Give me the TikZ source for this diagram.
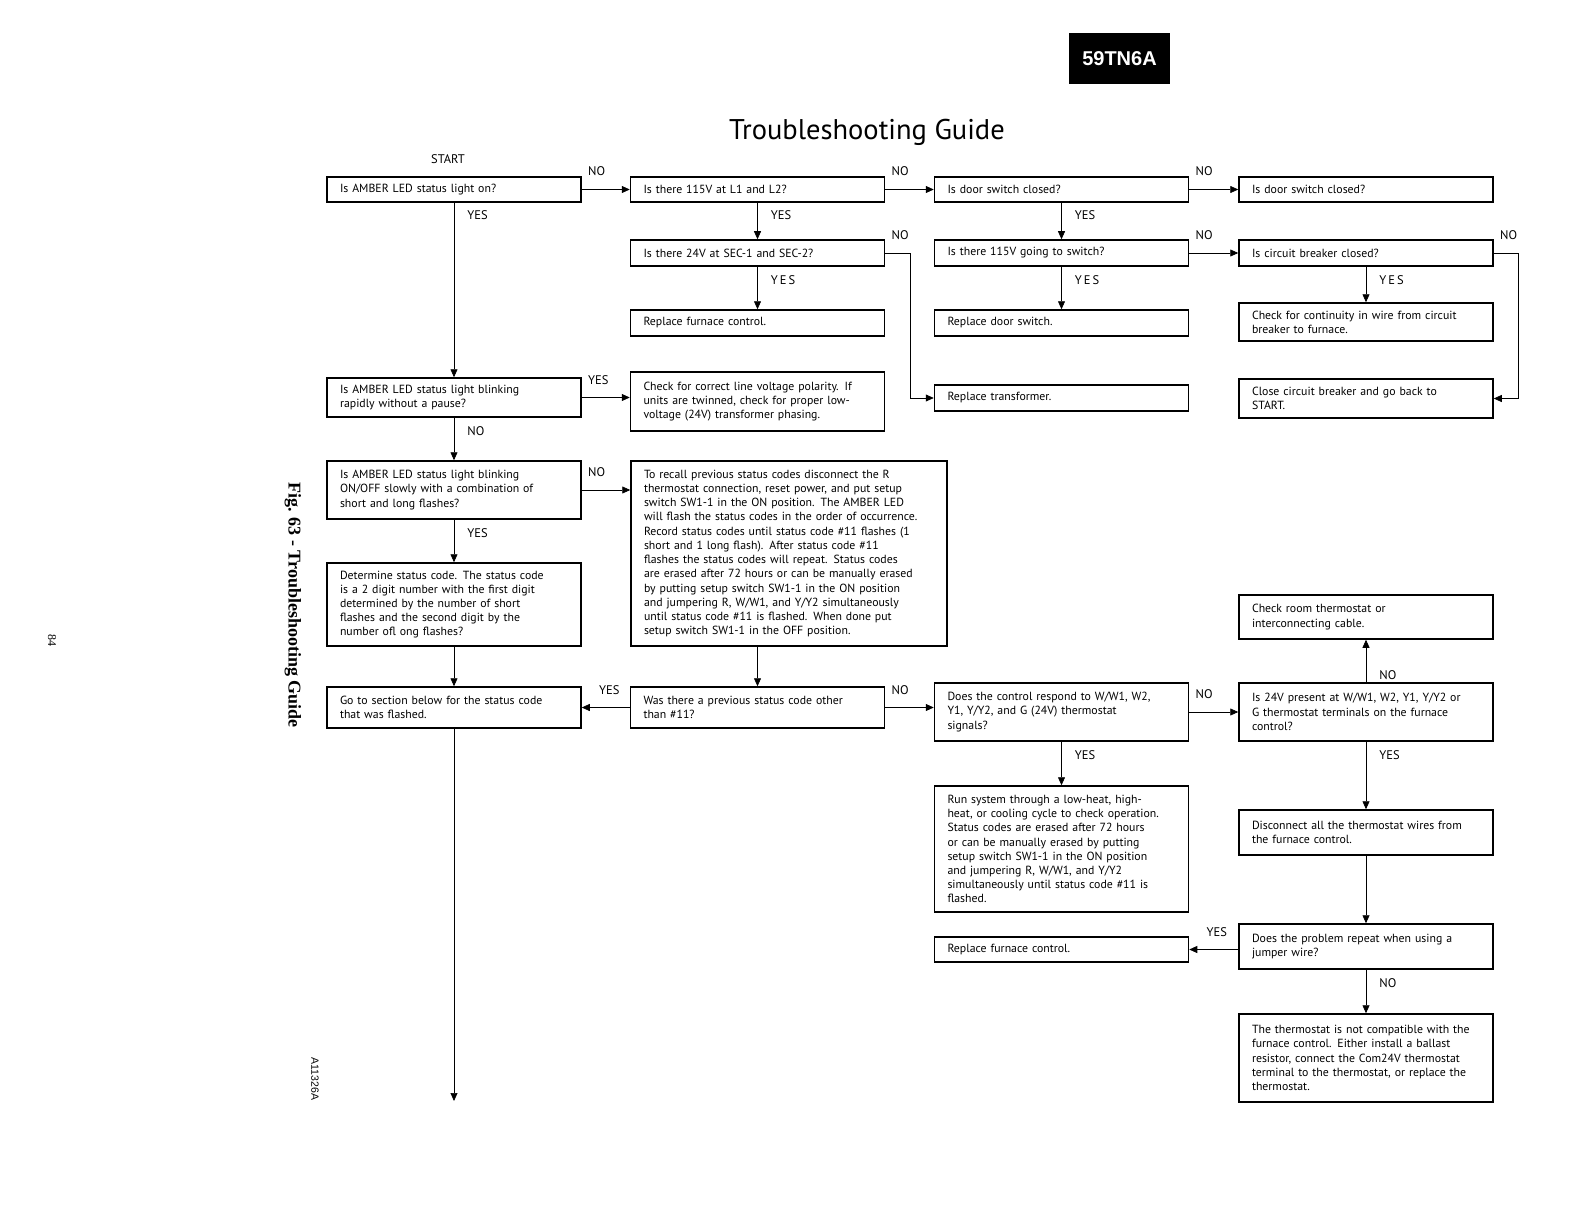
\documentclass[tikz,border=0pt]{standalone}
\usepackage{fontspec}
\setmainfont{PT Sans}
\newfontfamily\timesfont{Liberation Serif}
\newfontfamily\arialfont{Liberation Sans}
\usepackage{tikz}
\usetikzlibrary{
	arrows.meta,    % for the triangle tips
	calc            % for mixed coordinates
}

\begin{document}
\begin{tikzpicture}[x=1pt, y=-1pt,
		box/.style={draw, line width=1.5pt, text width=228pt, inner xsep=13pt, inner ysep=2pt,
			align=left, font=\fontsize{11.8}{14.2}\selectfont},
		widebox/.style={box, text width=290pt},
		arr/.style={-{Triangle[length=8pt, width=7pt]}, line width=0.7pt},
		lbl/.style={inner sep=1pt, font=\fontsize{12.5}{14}\selectfont},
		hlbl/.style={lbl, pos=0, anchor=south west, xshift=5pt, yshift=12pt},   % above a line going right
		llbl/.style={lbl, pos=1, anchor=south west, xshift=16pt, yshift=12pt},  % above a line going left
		vlbl/.style={lbl, pos=0, anchor=north west, xshift=12pt, yshift=-7pt}]  % right of a line going down
		% Column centres
		\def\colA{454}
		\def\colB{757.5}
		\def\colC{1061.5}
		\def\colD{1366}
		
		\useasboundingbox (0,0) rectangle (1585,1225);
		
		% --- Page header ---
		\node[fill=black, text=white, inner sep=0, minimum width=101pt, minimum height=51pt,
			font=\arialfont\bfseries\fontsize{20}{20}\selectfont] (modello) at (1119.5,58.5) {59TN6A};
		\node[font=\fontsize{28.5}{30}\selectfont] (titolo) at (867,132) {Troubleshooting Guide};
		% Side texts
		\node[rotate=-90, font=\timesfont\bfseries\fontsize{18}{18}\selectfont] (figura) at (293,605) {Fig. 63 - Troubleshooting Guide};
		\node[rotate=-90, font=\timesfont\fontsize{12}{12}\selectfont] (pagina) at (52,640) {84};
		\node[rotate=-90, font=\arialfont\fontsize{10.5}{10.5}\selectfont] (codice) at (315,1079) {A11326A};
		
		% --- Row 1 ---
		\node[lbl] (start) at (448,159) {START};
		\node[box, minimum height=25pt] (led) at (\colA,189.5) {Is AMBER LED status light on?};
		\node[box, minimum height=25pt] (linea) at (\colB,189.5) {Is there 115V at L1 and L2?};
		\node[box, minimum height=25pt] (porta) at (\colC,189.5) {Is door switch closed?};
		\node[box, minimum height=25pt] (portab) at (\colD,189.5) {Is door switch closed?};
		
		% --- Row 2 ---
		\node[box, minimum height=26pt] (sec) at (\colB,253) {Is there 24V at SEC-1 and SEC-2?};
		\node[box, minimum height=26pt] (switch) at (\colC,253) {Is there 115V going to switch?};
		\node[box, minimum height=26pt] (breaker) at (\colD,253) {Is circuit breaker closed?};
		
		% --- Row 3 ---
		\node[box, minimum height=26pt] (sostcontrollo) at (\colB,323) {Replace furnace control.};
		\node[box, minimum height=26pt] (sostporta) at (\colC,323) {Replace door switch.};
		\node[box, minimum height=38pt] (continuita) at (\colD,322) {Check for continuity in wire from circuit\\breaker to furnace.};
		
		% --- Row 4 ---
		\node[box, minimum height=39pt] (rapido) at (\colA,397.5) {Is AMBER LED status light blinking\\rapidly without a pause?};
		\node[box, minimum height=59pt] (polarita) at (\colB,401.5) {Check for correct line voltage polarity.  If\\units are twinned, check for proper low-\\voltage (24V) transformer phasing.};
		\node[box, minimum height=26pt] (trasf) at (\colC,398) {Replace transformer.};
		\node[box, minimum height=39pt] (chiudi) at (\colD,398.5) {Close circuit breaker and go back to\\START.};
		
		% --- Status codes ---
		\node[box, minimum height=58pt] (lento) at (\colA,490) {Is AMBER LED status light blinking\\ON/OFF slowly with a combination of\\short and long flashes?};
		\node[widebox, minimum height=185pt] (richiamo) at (789,553.5) {To recall previous status codes disconnect the R\\thermostat connection, reset power, and put setup\\switch SW1-1 in the ON position.  The AMBER LED\\will flash the status codes in the order of occurrence.\\Record status codes until status code \#11 flashes (1\\short and 1 long flash).  After status code \#11\\flashes the status codes will repeat.  Status codes\\are erased after 72 hours or can be manually erased\\by putting setup switch SW1-1 in the ON position\\and jumpering R, W/W1, and Y/Y2 simultaneously\\until status code \#11 is flashed.  When done put\\setup switch SW1-1 in the OFF position.};
		\node[box, minimum height=83pt] (codice2) at (\colA,604.5) {Determine status code.  The status code\\is a 2 digit number with the first digit\\determined by the number of short\\flashes and the second digit by the\\number ofl ong flashes?};
		\node[box, minimum height=44pt] (termostato) at (\colD,617) {Check room thermostat or\\interconnecting cable.};
		
		% --- Row of the previous code ---
		\node[box, minimum height=41pt] (sezione) at (\colA,707.5) {Go to section below for the status code\\that was flashed.};
		\node[box, minimum height=41pt] (precedente) at (\colB,707.5) {Was there a previous status code other\\than \#11?};
		\node[box, minimum height=58pt] (risponde) at (\colC,712) {Does the control respond to W/W1, W2,\\Y1, Y/Y2, and G (24V)  thermostat\\signals?};
		\node[box, minimum height=58pt] (presente) at (\colD,712) {Is 24V present at W/W1, W2, Y1, Y/Y2 or\\G thermostat terminals on the furnace\\control?};
		
		% --- Bottom part ---
		\node[box, minimum height=126pt] (ciclo) at (\colC,849) {Run system through a low-heat, high-\\heat, or cooling cycle to check operation.\\Status codes are erased after 72 hours\\or can be manually erased by putting\\setup switch SW1-1 in the ON position\\and jumpering R, W/W1, and Y/Y2\\simultaneously until status code \#11 is\\flashed.};
		\node[box, minimum height=45pt] (scollega) at (\colD,832.5) {Disconnect all the thermostat wires from\\the furnace control.};
		\node[box, minimum height=25pt] (sostcontrollob) at (\colC,949.5) {Replace furnace control.};
		\node[box, minimum height=45pt] (ponticello) at (\colD,946.5) {Does the problem repeat when using a\\jumper wire?};
		\node[box, minimum height=88pt] (compatibile) at (\colD,1058) {The thermostat is not compatible with the\\furnace control.  Either install a ballast\\resistor, connect the Com24V thermostat\\terminal to the thermostat, or replace the\\thermostat.};
		\coordinate (fine) at (\colA,1101);
		
		% --- Connectors ---
		\draw[arr] (led.east) -- node[hlbl] {NO} (linea.west);
		\draw[arr] (linea.east) -- node[hlbl] {NO} (porta.west);
		\draw[arr] (porta.east) -- node[hlbl] {NO} (portab.west);
		\draw[arr] (led.south) -- node[vlbl] {YES} (rapido.north);
		\draw[arr] (linea.south) -- node[vlbl] {YES} (sec.north);
		\draw[arr] (porta.south) -- node[vlbl] {YES} (switch.north);
		\draw[arr] (sec.east) -- node[hlbl] {NO} ++(25,0) |- (trasf.west);
		\draw[arr] (switch.east) -- node[hlbl] {NO} (breaker.west);
		\draw[arr] (breaker.east) -- node[hlbl] {NO} ++(25,0) |- (chiudi.east);
		\draw[arr] (sec.south) -- node[vlbl] {Y\,E\,S} (sostcontrollo.north);
		\draw[arr] (switch.south) -- node[vlbl] {Y\,E\,S} (sostporta.north);
		\draw[arr] (breaker.south) -- node[vlbl] {Y\,E\,S} (continuita.north);
		\draw[arr] (rapido.east) -- node[hlbl] {YES} (rapido.east -| polarita.west);
		\draw[arr] (rapido.south) -- node[vlbl] {NO} (lento.north);
		\draw[arr] (lento.east) -- node[hlbl] {NO} (lento.east -| richiamo.west);
		\draw[arr] (lento.south) -- node[vlbl] {YES} (codice2.north);
		\draw[arr] (codice2.south) -- (sezione.north);
		\draw[arr] (richiamo.south -| precedente.north) -- (precedente.north);
		\draw[arr] (precedente.west) -- node[llbl] {YES} (sezione.east);
		\draw[arr] (precedente.east) -- node[hlbl] {NO} (precedente.east -| risponde.west);
		\draw[arr] (risponde.east) -- node[hlbl] {NO} (presente.west);
		\draw[arr] (presente.north) -- node[vlbl, pos=1, yshift=-22pt] {NO} (termostato.south);
		\draw[arr] (risponde.south) -- node[vlbl] {YES} (ciclo.north);
		\draw[arr] (presente.south) -- node[vlbl] {YES} (scollega.north);
		\draw[arr] (scollega.south) -- (ponticello.north);
		\draw[arr] (ponticello.west |- sostcontrollob.east) -- node[llbl] {YES} (sostcontrollob.east);
		\draw[arr] (ponticello.south) -- node[vlbl] {NO} (compatibile.north);
		\draw[arr] (sezione.south) -- (fine);
\end{tikzpicture}
\end{document}
